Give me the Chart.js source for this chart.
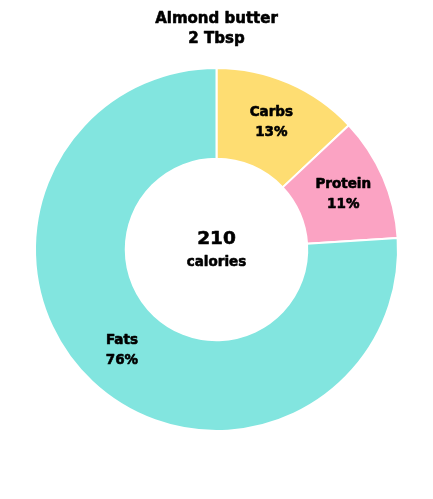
<!DOCTYPE html>
<html>
<head>
<meta charset="utf-8">
<script src="https://cdn.jsdelivr.net/npm/chart.js@4/dist/chart.umd.min.js"></script>
<style>
html,body{margin:0;padding:0;background:#fff;}
#wrap{width:433px;height:499px;position:relative;}
</style>
</head>
<body>
<div id="wrap"><canvas id="c"></canvas></div>
<script>
const titleLines = ["Almond butter", "2 Tbsp"];
const categories = ["Carbs", "Protein", "Fats"];
const percents = [13, 11, 76];
const colors = ["#FEDD72", "#FBA3C3", "#82E5DF"];
const centerValue = "210";
const centerLabel = "calories";

const FONT = "'DejaVu Sans', sans-serif";

function heavyText(ctx, txt, x, y) {
  ctx.fillText(txt, x, y);
  ctx.strokeText(txt, x, y);
}

const labelPlugin = {
  id: 'sliceLabels',
  afterDatasetsDraw(chart) {
    const ctx = chart.ctx;
    const meta = chart.getDatasetMeta(0);
    ctx.save();
    ctx.fillStyle = '#000';
    ctx.strokeStyle = '#000';
    ctx.lineWidth = 0.6;
    ctx.lineJoin = 'round';
    ctx.textAlign = 'center';
    ctx.textBaseline = 'middle';
    // title
    ctx.font = "bold 15px " + FONT;
    titleLines.forEach((t, i) => heavyText(ctx, t, chart.width / 2, 19 + i * 20));
    meta.data.forEach((arc, i) => {
      const p = arc.getProps(['x','y','startAngle','endAngle','innerRadius','outerRadius'], true);
      const a = (p.startAngle + p.endAngle) / 2;
      const r = (p.innerRadius + p.outerRadius) / 2 + 2;
      const cx = p.x + Math.cos(a) * r;
      const cy = p.y + Math.sin(a) * r;
      ctx.font = "bold 13.5px " + FONT;
      heavyText(ctx, categories[i], cx, cy - 10);
      heavyText(ctx, percents[i] + "%", cx, cy + 10);
    });
    const p0 = meta.data[0].getProps(['x','y'], true);
    ctx.font = "bold 18.5px " + FONT;
    heavyText(ctx, centerValue, p0.x, p0.y - 10);
    ctx.font = "bold 13.5px " + FONT;
    heavyText(ctx, centerLabel, p0.x, p0.y + 13);
    ctx.restore();
  }
};

new Chart(document.getElementById('c'), {
  type: 'doughnut',
  data: {
    labels: categories,
    datasets: [{
      data: percents,
      backgroundColor: colors,
      borderColor: '#ffffff',
      borderWidth: 2,
      hoverOffset: 0,
      offset: 0
    }]
  },
  options: {
    responsive: true,
    maintainAspectRatio: false,
    animation: false,
    cutout: '50%',
    layout: { padding: { top: 67, bottom: 67, left: 0, right: 0 } },
    plugins: {
      legend: { display: false },
      tooltip: { enabled: false },
      title: { display: false }
    }
  },
  plugins: [labelPlugin]
});
</script>
</body>
</html>
